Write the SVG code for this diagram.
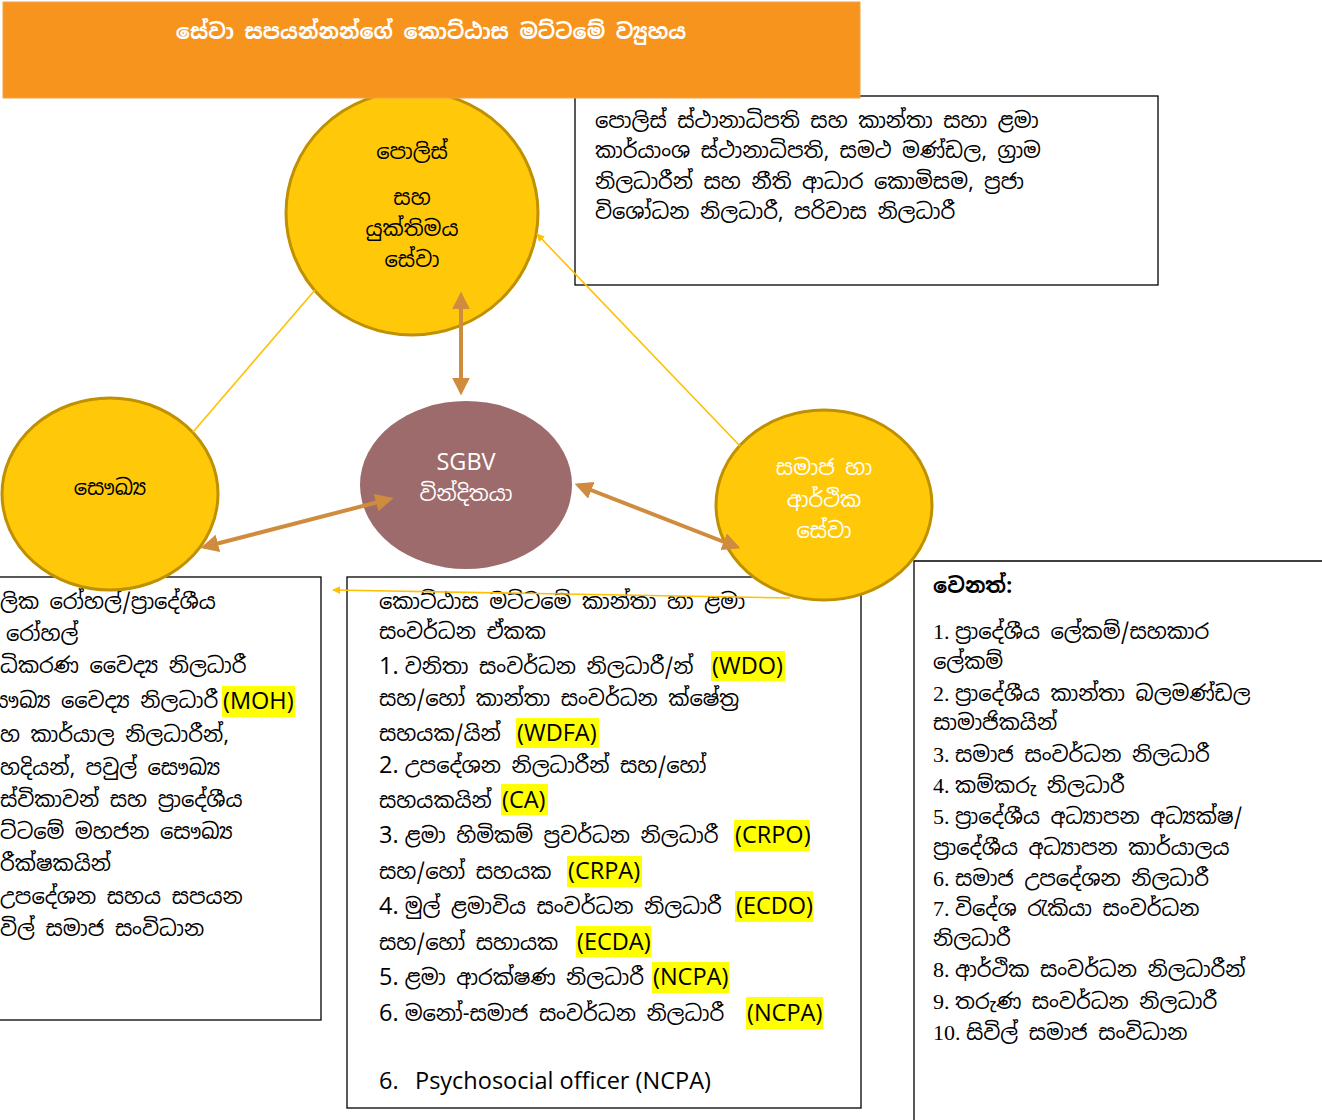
<svg xmlns="http://www.w3.org/2000/svg" width="1322" height="1120" viewBox="0 0 1322 1120">
<defs>
<style>
.si{font-family:"Noto Sans Sinhala","Noto Sans","DejaVu Sans",sans-serif;font-size:21px;fill:#000}
.lat{font-family:"Open Sans","Noto Sans","Liberation Sans",sans-serif;font-size:23.5px;fill:#000}
.num{font-family:"Liberation Serif","DejaVu Serif",serif;font-size:22px;fill:#000}
.box{fill:#fff;stroke:#000;stroke-width:1.3}
.yc{fill:#FFC90A;stroke:#BF9000;stroke-width:3}
.hl{fill:#FFFF00}
.yl{stroke:#FFC000;stroke-width:1.6;fill:none}
.br{stroke:#D08C3E;stroke-width:4;fill:none}
.wt{fill:#fff}
</style>
<marker id="ah" viewBox="0 0 10 10" refX="8" refY="5" markerWidth="4.5" markerHeight="4.5" orient="auto-start-reverse" markerUnits="strokeWidth">
<path d="M0,0 L10,5 L0,10 z" fill="#D08C3E"/>
</marker>
<marker id="yh" viewBox="0 0 10 10" refX="9" refY="5" markerWidth="8" markerHeight="8" orient="auto" markerUnits="userSpaceOnUse">
<path d="M0,0 L10,5 L0,10 z" fill="#FFC000"/>
</marker>
</defs>

<g id="box-police">
<rect class="box" x="575" y="96" width="583" height="189"/>
<text class="si" x="595" y="128">පොලිස් ස්ථානාධිපති සහ කාන්තා සහා ළමා</text>
<text class="si" x="595" y="158">කාර්යාංශ ස්ථානාධිපති, සමථ මණ්ඩල, ග්‍රාම</text>
<text class="si" x="595" y="189">නිලධාරීන් සහ නීති ආධාර කොමිසම, ප්‍රජා</text>
<text class="si" x="595" y="219">විශෝධන නිලධාරී, පරිවාස නිලධාරී</text>
</g>

<g id="box-health">
<rect class="box" x="-10" y="577" width="331" height="443"/>
<rect class="hl" x="222" y="686" width="73" height="31"/>
<text class="si" x="0" y="609">ලික රෝහල්/ප්‍රාදේශීය</text>
<text class="si" x="6" y="641">රෝහල්</text>
<text class="si" x="0" y="673">ධිකරණ වෛද්‍ය නිලධාරී</text>
<text class="si" x="-22" y="708">සෞඛ්‍ය වෛද්‍ය නිලධාරී</text>
<text class="lat" x="223" y="709">(MOH)</text>
<text class="si" x="0" y="742">හ කාර්යාල නිලධාරීන්,</text>
<text class="si" x="0" y="775">හදියන්, පවුල් සෞඛ්‍ය</text>
<text class="si" x="0" y="807">ස්විකාවන් සහ ප්‍රාදේශීය</text>
<text class="si" x="0" y="839">ට්ටමේ මහජන සෞඛ්‍ය</text>
<text class="si" x="0" y="871">රීක්ෂකයින්</text>
<text class="si" x="0" y="904">උපදේශන සහය සපයන</text>
<text class="si" x="0" y="936">විල් සමාජ සංවිධාන</text>
</g>

<g id="box-divisional">
<rect class="box" x="347" y="577" width="514" height="531"/>
<rect class="hl" x="711" y="651" width="74" height="30"/>
<rect class="hl" x="516" y="718" width="83" height="30"/>
<rect class="hl" x="501" y="784" width="47" height="31"/>
<rect class="hl" x="734" y="820" width="76" height="31"/>
<rect class="hl" x="567" y="856" width="75" height="31"/>
<rect class="hl" x="735" y="891" width="78" height="31"/>
<rect class="hl" x="576" y="926" width="75" height="31"/>
<rect class="hl" x="652" y="962" width="77" height="31"/>
<rect class="hl" x="746" y="997" width="77" height="32"/>
<text class="si" x="379" y="609">කොට්ඨාස මට්ටමේ කාන්තා හා ළමා</text>
<text class="si" x="379" y="639">සංවර්ධන ඒකක</text>
<text class="si" x="379" y="674"><tspan class="lat">1. </tspan>වනිතා සංවර්ධන නිලධාරී/න් <tspan class="lat" x="712">(WDO)</tspan></text>
<text class="si" x="379" y="706">සහ/හෝ  කාන්තා සංවර්ධන ක්ෂේත්‍ර</text>
<text class="si" x="379" y="741">සහයක/යින් <tspan class="lat" x="517">(WDFA)</tspan></text>
<text class="si" x="379" y="773"><tspan class="lat">2. </tspan>උපදේශන නිලධාරීන් සහ/හෝ</text>
<text class="si" x="379" y="808">සහයකයින් <tspan class="lat" x="502">(CA)</tspan></text>
<text class="si" x="379" y="843"><tspan class="lat">3. </tspan>ළමා හිමිකම් ප්‍රවර්ධන නිලධාරී <tspan class="lat" x="735">(CRPO)</tspan></text>
<text class="si" x="379" y="879">සහ/හෝ සහයක <tspan class="lat" x="568">(CRPA)</tspan></text>
<text class="si" x="379" y="914"><tspan class="lat">4. </tspan>මුල් ළමාවිය සංවර්ධන නිලධාරී <tspan class="lat" x="736">(ECDO)</tspan></text>
<text class="si" x="379" y="950">සහ/හෝ සහායක <tspan class="lat" x="577">(ECDA)</tspan></text>
<text class="si" x="379" y="985"><tspan class="lat">5. </tspan>ළමා ආරක්ෂණ නිලධාරී <tspan class="lat" x="653">(NCPA)</tspan></text>
<text class="si" x="379" y="1021"><tspan class="lat">6. </tspan>මනෝ-සමාජ සංවර්ධන නිලධාරී <tspan class="lat" x="747">(NCPA)</tspan></text>
<text class="lat" x="379" y="1089">6.<tspan x="415">Psychosocial officer (NCPA)</tspan></text>
</g>

<g id="box-other">
<path d="M1322,561 H914 V1120" fill="#fff" stroke="#000" stroke-width="1.3"/>
<text class="si" x="933" y="593" font-weight="bold">වෙනත්:</text>
<text class="si" x="933" y="639"><tspan class="num">1. </tspan>ප්‍රාදේශීය ලේකම්/සහකාර</text>
<text class="si" x="933" y="669">ලේකම්</text>
<text class="si" x="933" y="701"><tspan class="num">2. </tspan>ප්‍රාදේශීය කාන්තා බලමණ්ඩල</text>
<text class="si" x="933" y="730">සාමාජිකයින්</text>
<text class="si" x="933" y="762"><tspan class="num">3. </tspan>සමාජ  සංවර්ධන නිලධාරී</text>
<text class="si" x="933" y="793"><tspan class="num">4. </tspan>කම්කරු නිලධාරී</text>
<text class="si" x="933" y="824"><tspan class="num">5. </tspan>ප්‍රාදේශීය අධ්‍යාපන අධ්‍යක්ෂ/</text>
<text class="si" x="933" y="855">ප්‍රාදේශීය අධ්‍යාපන කාර්යාලය</text>
<text class="si" x="933" y="886"><tspan class="num">6. </tspan>සමාජ උපදේශන නිලධාරී</text>
<text class="si" x="933" y="916"><tspan class="num">7. </tspan>විදේශ රැකියා සංවර්ධන</text>
<text class="si" x="933" y="946">නිලධාරී</text>
<text class="si" x="933" y="977"><tspan class="num">8. </tspan>ආර්ථික සංවර්ධන නිලධාරීන්</text>
<text class="si" x="933" y="1009"><tspan class="num">9. </tspan>තරුණ සංවර්ධන නිලධාරී</text>
<text class="si" x="933" y="1040"><tspan class="num">10. </tspan>සිවිල් සමාජ සංවිධාන</text>
</g>

<g id="node-police">
<ellipse class="yc" cx="412" cy="213" rx="126" ry="122"/>
<text class="si" x="412" y="159" text-anchor="middle">පොලිස්</text>
<text class="si" x="412" y="205" text-anchor="middle">සහ</text>
<text class="si" x="412" y="236" text-anchor="middle">යුක්තිමය</text>
<text class="si" x="412" y="267" text-anchor="middle">සේවා</text>
</g>

<g id="node-health">
<ellipse class="yc" cx="110" cy="494" rx="108" ry="96"/>
<text class="si" x="110" y="495" text-anchor="middle" font-size="22">සෞඛ්‍ය</text>
</g>

<g id="node-sgbv">
<ellipse cx="466" cy="485" rx="106" ry="84" fill="#9D6B6B"/>
<text class="lat wt" x="466" y="470" text-anchor="middle">SGBV</text>
<text class="si wt" x="466" y="501" text-anchor="middle">වින්දිතයා</text>
</g>

<g id="node-social">
<ellipse class="yc" cx="824" cy="505" rx="108" ry="95"/>
<text class="si wt" x="824" y="475" text-anchor="middle">සමාජ හා</text>
<text class="si wt" x="824" y="507" text-anchor="middle">ආර්ථික</text>
<text class="si wt" x="824" y="538" text-anchor="middle">සේවා</text>
</g>

<g id="connectors">
<line class="yl" x1="315" y1="290" x2="193" y2="432"/>
<line class="yl" x1="740" y1="446" x2="537" y2="234" marker-end="url(#yh)"/>
<line class="yl" x1="790" y1="598" x2="333" y2="590" marker-end="url(#yh)"/>
<line class="br" x1="461" y1="295" x2="461" y2="392" marker-start="url(#ah)" marker-end="url(#ah)"/>
<line class="br" x1="204" y1="547" x2="390" y2="499" marker-start="url(#ah)" marker-end="url(#ah)"/>
<line class="br" x1="578" y1="485" x2="737" y2="547" marker-start="url(#ah)" marker-end="url(#ah)"/>
</g>

<g id="header">
<rect x="3" y="2" width="857" height="96" fill="#F7941D" stroke="#F5A04A" stroke-width="1"/>
<text class="si wt" x="431" y="39" text-anchor="middle" font-weight="bold">සේවා සපයන්නන්ගේ කොට්ඨාස මට්ටමේ ව්‍යුහය</text>
</g>
</svg>
